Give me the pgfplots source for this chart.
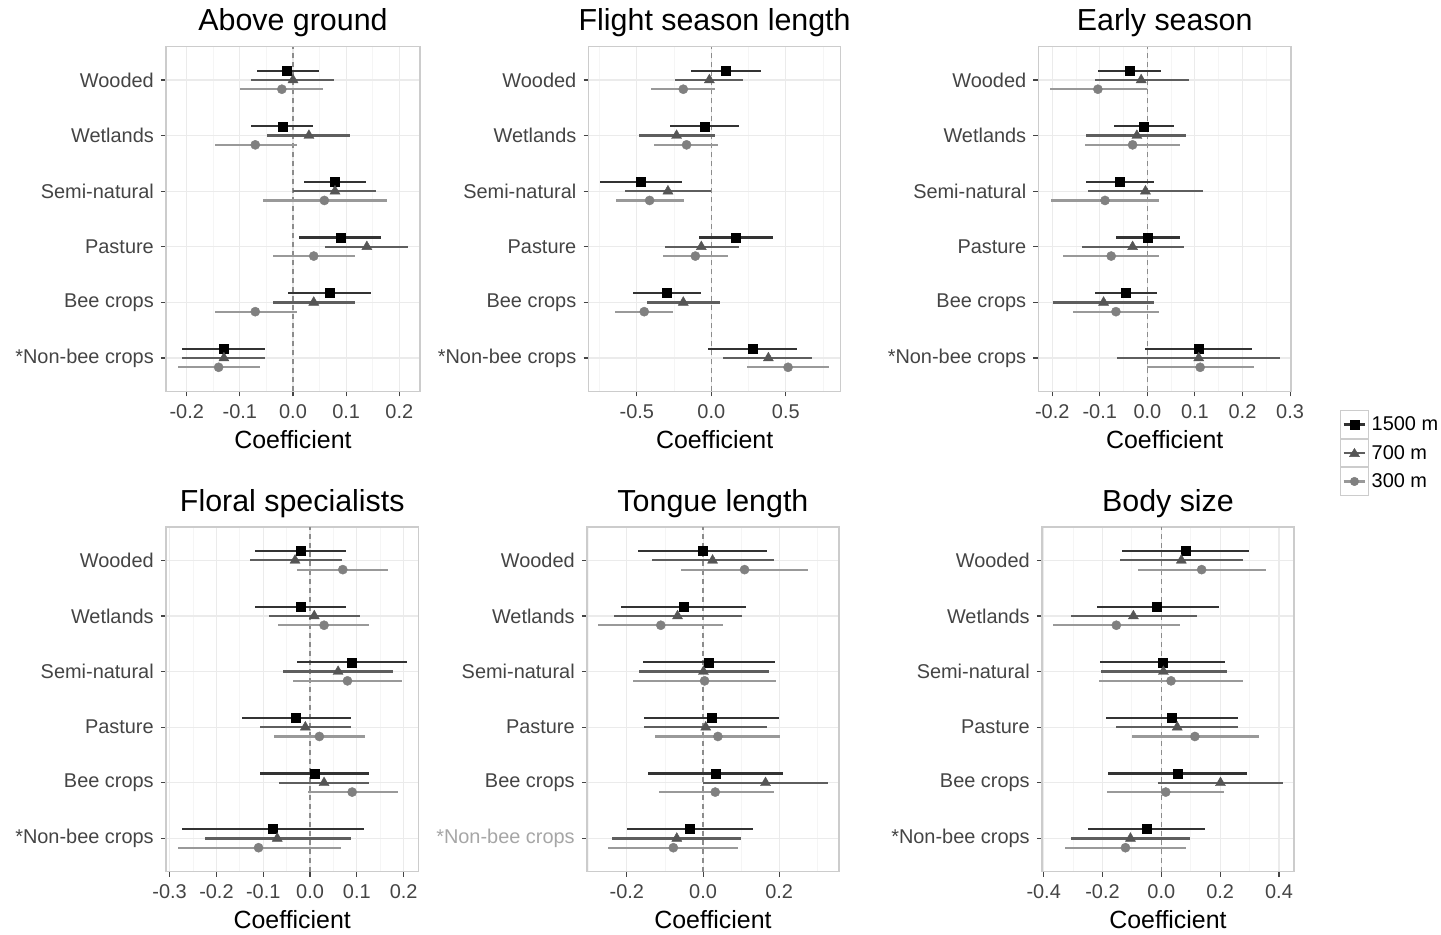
\documentclass[border=0pt]{standalone}
\usepackage{fontspec}
\setmainfont{Liberation Sans}
\usepackage{pgfplots}
\pgfplotsset{compat=1.18}
\usepackage{pgfplotstable}

\definecolor{l1500}{HTML}{333333}
\definecolor{m700}{HTML}{555555}
\definecolor{l700}{HTML}{5E5E5E}
\definecolor{m300}{HTML}{808080}
\definecolor{l300}{HTML}{999999}
\definecolor{axtext}{HTML}{444444}
\definecolor{gridmaj}{HTML}{EBEBEB}
\definecolor{gridmin}{HTML}{F5F5F5}
\definecolor{border}{HTML}{CCCCCC}
\definecolor{zeroline}{HTML}{8C8C8C}

% cat: 6 Wooded, 5 Wetlands, 4 Semi-natural, 3 Pasture, 2 Bee crops, 1 *Non-bee crops
% s = 1500 m, t = 700 m, c = 300 m (estimate, lower, upper)
\pgfplotstableread{
cat s sl sh t tl th c cl ch
6 -0.011 -0.068 0.048 0.000 -0.079 0.077 -0.021 -0.099 0.057
5 -0.020 -0.079 0.038 0.030 -0.049 0.107 -0.071 -0.147 0.008
4 0.079 0.021 0.138 0.079 0.000 0.157 0.059 -0.057 0.176
3 0.089 0.012 0.166 0.139 0.060 0.217 0.039 -0.038 0.117
2 0.069 -0.009 0.147 0.039 -0.038 0.117 -0.071 -0.147 0.008
1 -0.130 -0.208 -0.053 -0.130 -0.208 -0.053 -0.140 -0.217 -0.062
}\tabA
\pgfplotstableread{
cat s sl sh t tl th c cl ch
6 0.096 -0.136 0.331 -0.013 -0.244 0.215 -0.188 -0.405 0.022
5 -0.047 -0.277 0.188 -0.233 -0.485 0.022 -0.166 -0.383 0.047
4 -0.474 -0.747 -0.195 -0.291 -0.579 0.000 -0.414 -0.640 -0.183
3 0.163 -0.083 0.416 -0.067 -0.313 0.188 -0.107 -0.327 0.112
2 -0.300 -0.528 -0.067 -0.188 -0.434 0.058 -0.450 -0.647 -0.260
1 0.275 -0.025 0.573 0.383 0.081 0.678 0.515 0.237 0.792
}\tabB
\pgfplotstableread{
cat s sl sh t tl th c cl ch
6 -0.038 -0.104 0.029 -0.013 -0.111 0.087 -0.104 -0.205 -0.001
5 -0.008 -0.071 0.056 -0.022 -0.129 0.082 -0.031 -0.131 0.069
4 -0.059 -0.129 0.013 -0.004 -0.125 0.118 -0.089 -0.203 0.024
3 0.001 -0.066 0.068 -0.031 -0.138 0.077 -0.076 -0.177 0.025
2 -0.046 -0.110 0.020 -0.092 -0.198 0.013 -0.066 -0.156 0.025
1 0.107 -0.005 0.219 0.108 -0.063 0.278 0.111 -0.001 0.224
}\tabC
\pgfplotstableread{
cat s sl sh t tl th c cl ch
6 -0.019 -0.118 0.077 -0.032 -0.128 0.068 0.070 -0.027 0.167
5 -0.019 -0.118 0.077 0.009 -0.087 0.107 0.030 -0.068 0.127
4 0.090 -0.027 0.207 0.060 -0.057 0.177 0.080 -0.036 0.197
3 -0.030 -0.146 0.087 -0.010 -0.107 0.087 0.020 -0.077 0.118
2 0.010 -0.107 0.127 0.030 -0.067 0.127 0.090 -0.005 0.187
1 -0.080 -0.274 0.116 -0.070 -0.224 0.087 -0.110 -0.283 0.066
}\tabD
\pgfplotstableread{
cat s sl sh t tl th c cl ch
6 -0.001 -0.170 0.169 0.025 -0.135 0.185 0.109 -0.058 0.275
5 -0.052 -0.215 0.113 -0.067 -0.233 0.102 -0.111 -0.275 0.053
4 0.016 -0.158 0.188 0.001 -0.168 0.173 0.004 -0.183 0.191
3 0.023 -0.155 0.200 0.007 -0.155 0.169 0.039 -0.126 0.202
2 0.032 -0.145 0.211 0.164 0.000 0.327 0.032 -0.117 0.186
1 -0.036 -0.199 0.130 -0.069 -0.240 0.100 -0.078 -0.249 0.093
}\tabE
\pgfplotstableread{
cat s sl sh t tl th c cl ch
6 0.083 -0.135 0.299 0.068 -0.141 0.279 0.137 -0.078 0.355
5 -0.016 -0.220 0.195 -0.095 -0.307 0.120 -0.153 -0.367 0.063
4 0.005 -0.208 0.216 0.007 -0.205 0.222 0.033 -0.212 0.276
3 0.036 -0.189 0.262 0.054 -0.154 0.262 0.114 -0.101 0.332
2 0.057 -0.180 0.290 0.201 -0.011 0.412 0.015 -0.186 0.213
1 -0.050 -0.248 0.148 -0.105 -0.307 0.097 -0.122 -0.327 0.083
}\tabF

\pgfplotsset{
  panel/.style={
    scale only axis, width=253bp, height=344.8bp, anchor=south west,
    ymin=0.4, ymax=6.6, ytick={1,2,3,4,5,6},
    yticklabels={*Non-bee crops,Bee crops,Pasture,Semi-natural,Wetlands,Wooded},
    tick pos=left, tick align=outside,
    major tick length=5bp, minor tick length=0pt,
    major tick style={axtext, line width=1.1bp},
    axis line style={border, line width=1.3bp},
    xmajorgrids, ymajorgrids, xminorgrids,
    major grid style={gridmaj, line width=1.1bp},
    minor grid style={gridmin, line width=0.9bp},
    ticklabel style={font=\fontsize{20}{24}\selectfont, text=axtext},
    xticklabel style={anchor=base, yshift=-22bp},
    yticklabel style={anchor=east, inner sep=0pt, xshift=-7bp},
    title style={font=\fontsize{30.5}{34}\selectfont, anchor=base, at={(axis description cs:0.5,1)}, yshift=10bp},
    xlabel={Coefficient},
    xlabel style={font=\fontsize{25}{28}\selectfont, at={(axis description cs:0.5,0)}, anchor=base, yshift=-57bp},
  },
  leg1500/.style={legend image code/.code={
      \draw[draw=border, fill=white, line width=0.9bp] (0bp,-13.8bp) rectangle (27.6bp,13.8bp);
      \draw[line width=2.2bp, color=l1500] (3bp,0bp) -- (24.6bp,0bp);
      \fill[black] (9.5bp,-4.3bp) rectangle (18.1bp,4.3bp);}},
  leg700/.style={legend image code/.code={
      \draw[draw=border, fill=white, line width=0.9bp] (0bp,-13.8bp) rectangle (27.6bp,13.8bp);
      \draw[line width=2.2bp, color=l700] (3bp,0bp) -- (24.6bp,0bp);
      \fill[m700] (13.8bp,4.6bp) -- (18.8bp,-3.6bp) -- (8.8bp,-3.6bp) -- cycle;}},
  leg300/.style={legend image code/.code={
      \draw[draw=border, fill=white, line width=0.9bp] (0bp,-13.8bp) rectangle (27.6bp,13.8bp);
      \draw[line width=2.2bp, color=l300] (3bp,0bp) -- (24.6bp,0bp);
      \fill[m300] (13.8bp,0bp) circle (4.3bp);}},
}

\newcommand\threeseries[1]{%
  \addplot[forget plot, color=zeroline, line width=1.3bp, dash pattern=on 5bp off 4bp] coordinates {(0,0.4) (0,6.6)};
  \addplot[only marks, mark=square*, mark size=4.5bp, color=black, leg1500,
    error bars/.cd, x dir=both, x explicit, error mark=none,
    error bar style={color=l1500, line width=2.2bp}]
    table[x=s, y expr=\thisrow{cat}+0.1667,
      x error plus expr=\thisrow{sh}-\thisrow{s},
      x error minus expr=\thisrow{s}-\thisrow{sl}] {#1};
  \addplot[only marks, mark=triangle*, mark size=5.8bp, color=m700, leg700,
    error bars/.cd, x dir=both, x explicit, error mark=none,
    error bar style={color=l700, line width=2.2bp}]
    table[x=t, y=cat,
      x error plus expr=\thisrow{th}-\thisrow{t},
      x error minus expr=\thisrow{t}-\thisrow{tl}] {#1};
  \addplot[only marks, mark=*, mark size=4.6bp, color=m300, leg300,
    error bars/.cd, x dir=both, x explicit, error mark=none,
    error bar style={color=l300, line width=2.2bp}]
    table[x=c, y expr=\thisrow{cat}-0.1667,
      x error plus expr=\thisrow{ch}-\thisrow{c},
      x error minus expr=\thisrow{c}-\thisrow{cl}] {#1};
}

\begin{document}
\begin{tikzpicture}
\useasboundingbox (0bp,0bp) rectangle (1441bp,935bp);

\begin{axis}[panel, at={(166bp,543.6bp)}, width=254bp, title={Above ground},
  xmin=-0.239, xmax=0.239,
  xtick={-0.2,-0.1,0,0.1,0.2}, xticklabels={-0.2,-0.1,0.0,0.1,0.2},
  minor xtick={-0.15,-0.05,0.05,0.15}]
  \threeseries{\tabA}
\end{axis}

\begin{axis}[panel, at={(588.5bp,543.6bp)}, width=252.3bp, title={Flight season length},
  xmin=-0.824, xmax=0.869,
  xtick={-0.5,0,0.5}, xticklabels={-0.5,0.0,0.5},
  minor xtick={-0.75,-0.25,0.25,0.75}]
  \threeseries{\tabB}
\end{axis}

\begin{axis}[panel, at={(1038.4bp,543.6bp)}, width=252.6bp, title={Early season},
  xmin=-0.229, xmax=0.302,
  xtick={-0.2,-0.1,0,0.1,0.2,0.3}, xticklabels={-0.2,-0.1,0.0,0.1,0.2,0.3},
  minor xtick={-0.15,-0.05,0.05,0.15,0.25},
  legend style={at={(axis description cs:1.194,-0.054)}, anchor=north west,
    draw=none, fill=none, inner sep=0pt, row sep=0pt,
    font=\fontsize{20}{24}\selectfont, nodes={inner sep=0pt},
    /tikz/every odd column/.style={column sep=3bp}},
  legend cell align=left]
  \threeseries{\tabC}
  \legend{1500 m,700 m,300 m}
\end{axis}

\begin{axis}[panel, at={(165.9bp,63.2bp)}, width=252.7bp, title={Floral specialists},
  xmin=-0.308, xmax=0.232,
  xtick={-0.3,-0.2,-0.1,0,0.1,0.2}, xticklabels={-0.3,-0.2,-0.1,0.0,0.1,0.2},
  minor xtick={-0.25,-0.15,-0.05,0.05,0.15}]
  \threeseries{\tabD}
\end{axis}

\begin{axis}[panel, at={(586.9bp,63.2bp)}, width=252.1bp, title={Tongue length},
  xmin=-0.305, xmax=0.357,
  xtick={-0.2,0,0.2}, xticklabels={-0.2,0.0,0.2},
  minor xtick={-0.3,-0.1,0.1,0.3},
  yticklabels={\textcolor[HTML]{A6A6A6}{*Non-bee crops},Bee crops,Pasture,Semi-natural,Wetlands,Wooded}]
  \threeseries{\tabE}
\end{axis}

\begin{axis}[panel, at={(1041.9bp,63.2bp)}, width=252.1bp, title={Body size},
  xmin=-0.406, xmax=0.451,
  xtick={-0.4,-0.2,0,0.2,0.4}, xticklabels={-0.4,-0.2,0.0,0.2,0.4},
  minor xtick={-0.3,-0.1,0.1,0.3}]
  \threeseries{\tabF}
\end{axis}

\end{tikzpicture}
\end{document}
